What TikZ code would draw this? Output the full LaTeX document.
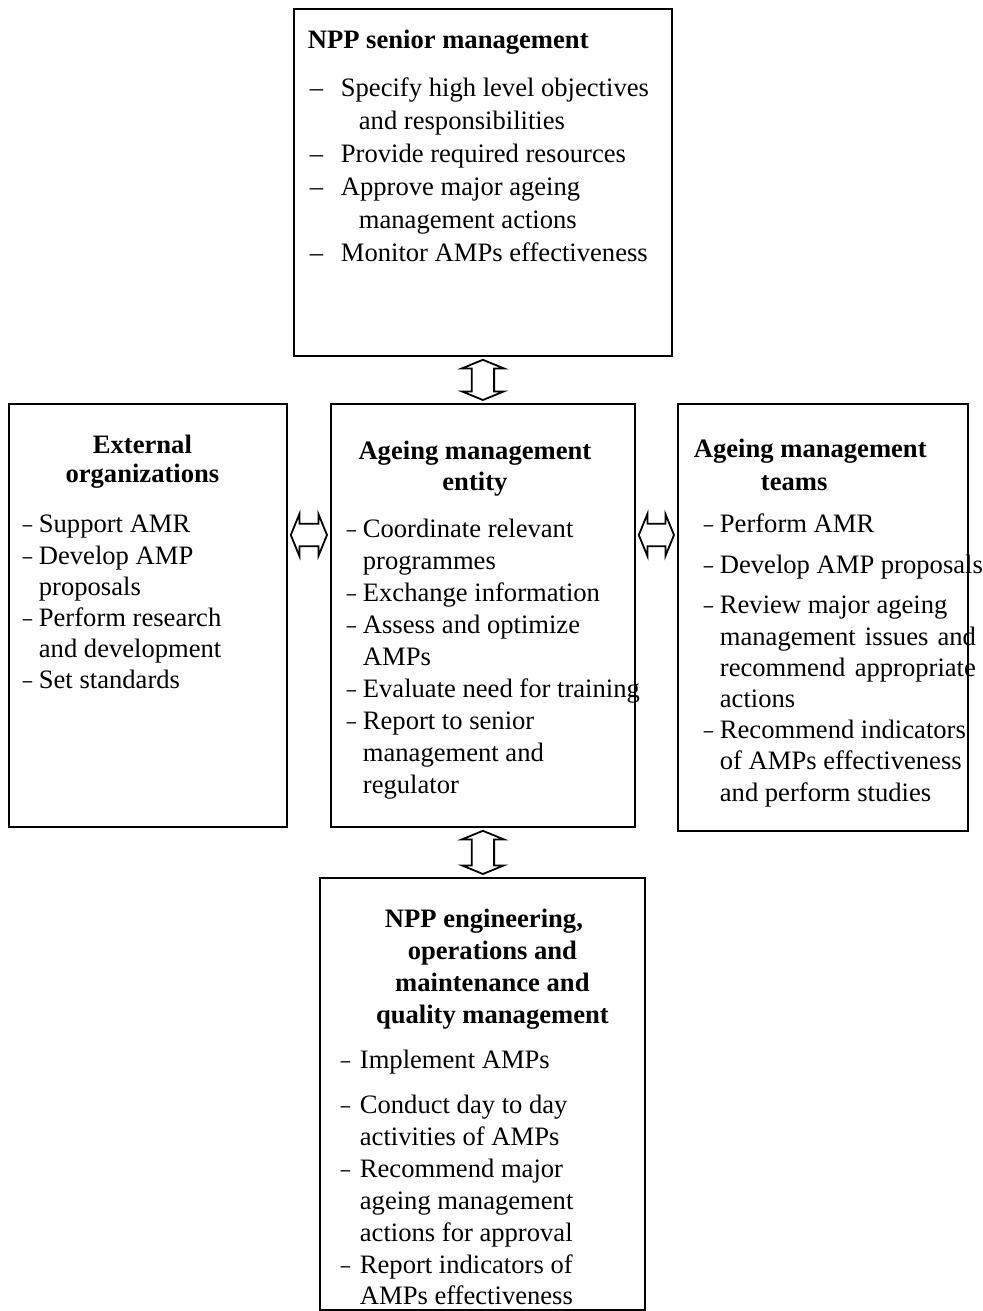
\documentclass[tikz,border=0pt]{standalone}
\usepackage{fontspec}
\setmainfont{Liberation Serif}
\usetikzlibrary{calc}

\tikzset{
    box_node/.style={rectangle, draw=black, line width=0.9pt, inner sep=0pt, anchor=north west,
        font=\fontsize{13.3pt}{16pt}\selectfont},
    biarrow/.style={draw=black, fill=white, line width=0.9pt, line join=miter},
}

% box contents: width, height, space above, body
\newcommand{\boxbody}[4]{%
    \begin{minipage}[b][#2][t]{#1}\vspace*{#3}\noindent#4\end{minipage}}
\newcommand{\dsh}{\scalebox{0.7}[1]{\textendash}}
\newcommand{\ttl}[2]{\multicolumn{2}{@{}l@{}}{\makebox[#1][c]{\textbf{#2}}}}

% double block arrows between two anchors
\newcommand{\vbiarrow}[2]{%
    \draw [biarrow] let \p1=#1, \p2=#2 in
        (\x1,\y1-1.5pt) -- (\x1+10.5pt,\y1-5.8pt) -- (\x1+5.6pt,\y1-5.8pt)
        -- (\x1+5.6pt,\y2+5.8pt) -- (\x1+10.5pt,\y2+5.8pt) -- (\x1,\y2+1.5pt)
        -- (\x1-10.5pt,\y2+5.8pt) -- (\x1-5.6pt,\y2+5.8pt)
        -- (\x1-5.6pt,\y1-5.8pt) -- (\x1-10.5pt,\y1-5.8pt) -- cycle;}
\newcommand{\hbiarrow}[2]{%
    \draw [biarrow] let \p1=#1, \p2=#2 in
        (\x1+1.5pt,\y1) -- (\x1+5.8pt,\y1+10.5pt) -- (\x1+5.8pt,\y1+5.6pt)
        -- (\x2-5.8pt,\y1+5.6pt) -- (\x2-5.8pt,\y1+10.5pt) -- (\x2-1.5pt,\y1)
        -- (\x2-5.8pt,\y1-10.5pt) -- (\x2-5.8pt,\y1-5.6pt)
        -- (\x1+5.8pt,\y1-5.6pt) -- (\x1+5.8pt,\y1-10.5pt) -- cycle;}

\begin{document}
\begin{tikzpicture}[x=0.5pt, y=-0.5pt]
    \useasboundingbox (0,0) rectangle (983,1311);

    %%%%%%%%%%%%%%%%%%%
    % Senior management %
    %%%%%%%%%%%%%%%%%%%
    \node (senior) [box_node] at (293,8) {\boxbody{189pt}{173.5pt}{8.8pt}{%
        \begin{tabular}[t]{@{\hspace{8pt}}p{15.5pt}@{}l@{}}
        \multicolumn{2}{@{}l@{}}{\hspace*{7pt}\textbf{NPP senior management}}\\[8pt]
        \textendash & Specify high level objectives\\[0.5pt]
         & \hspace*{9pt}and responsibilities\\[0.5pt]
        \textendash & Provide required resources\\[0.5pt]
        \textendash & Approve major ageing\\[0.5pt]
         & \hspace*{9pt}management actions\\[0.5pt]
        \textendash & Monitor AMPs effectiveness
        \end{tabular}}};

    %%%%%%%%%%%%%%%%%%
    % Middle row     %
    %%%%%%%%%%%%%%%%%%
    \node (external) [box_node] at (8,403) {\boxbody{139pt}{211.5pt}{13.8pt}{%
        \begin{tabular}[t]{@{\hspace{7pt}}p{8pt}@{}l@{}}
        \ttl{133.5pt}{External}\\[-1.5pt]
        \ttl{133.5pt}{organizations}\\[9pt]
        \dsh & Support AMR\\[-0.4pt]
        \dsh & Develop AMP\\[-0.4pt]
         & proposals\\[-0.4pt]
        \dsh & Perform research\\[-0.4pt]
         & and development\\[-0.4pt]
        \dsh & Set standards
        \end{tabular}}};

    \node (entity) [box_node] at (330,403) {\boxbody{152pt}{211.5pt}{16.8pt}{%
        \begin{tabular}[t]{@{\hspace{8pt}}p{8pt}@{}l@{}}
        \ttl{144pt}{Ageing management}\\[-0.5pt]
        \ttl{144pt}{entity}\\[7.5pt]
        \dsh & Coordinate relevant\\
         & programmes\\
        \dsh & Exchange information\\
        \dsh & Assess and optimize\\
         & AMPs\\
        \dsh & Evaluate need for training\\
        \dsh & Report to senior\\
         & management and\\
         & regulator
        \end{tabular}}};

    \node (teams) [box_node] at (677,403) {\boxbody{145pt}{213.5pt}{15.8pt}{%
        \begin{tabular}[t]{@{\hspace{13pt}}p{8pt}@{}l@{}}
        \multicolumn{2}{@{}l@{}}{\hspace*{8pt}\textbf{Ageing management}}\\[0.5pt]
        \multicolumn{2}{@{}l@{}}{\hspace*{41.5pt}\textbf{teams}}\\[5pt]
        \dsh & Perform AMR\\[4.5pt]
        \dsh & Develop AMP proposals\\[4pt]
        \dsh & Review major ageing\\[-0.4pt]
         & \makebox[128pt][s]{management issues and}\\[-0.4pt]
         & \makebox[128pt][s]{recommend appropriate}\\[-0.4pt]
         & actions\\[-0.4pt]
        \dsh & Recommend indicators\\[-0.4pt]
         & of AMPs effectiveness\\[-0.4pt]
         & and perform studies
        \end{tabular}}};

    %%%%%%%%%%%%%%%%%%%%%%%%%%%%
    % Engineering and operations %
    %%%%%%%%%%%%%%%%%%%%%%%%%%%%
    \node (engineering) [box_node] at (319,877) {\boxbody{162.5pt}{216pt}{13.8pt}{%
        \begin{tabular}[t]{@{\hspace{10.5pt}}p{9.5pt}@{}l@{}}
        \ttl{172.5pt}{NPP engineering,\hspace*{8.5pt}}\\
        \ttl{172.5pt}{operations and}\\
        \ttl{172.5pt}{maintenance and}\\
        \ttl{172.5pt}{quality management}\\[6.5pt]
        \dsh & Implement AMPs\\[6.5pt]
        \dsh & Conduct day to day\\
         & activities of AMPs\\
        \dsh & Recommend major\\
         & ageing management\\
         & actions for approval\\
        \dsh & Report indicators of\\[-0.5pt]
         & AMPs effectiveness
        \end{tabular}}};

    % arrows
    \vbiarrow{(senior.south)}{(entity.north)}
    \vbiarrow{(entity.south)}{(engineering.north)}
    \hbiarrow{($(external.north east)+(0,132)$)}{($(entity.north west)+(0,132)$)}
    \hbiarrow{($(entity.north east)+(0,132)$)}{($(teams.north west)+(0,132)$)}

\end{tikzpicture}
\end{document}
